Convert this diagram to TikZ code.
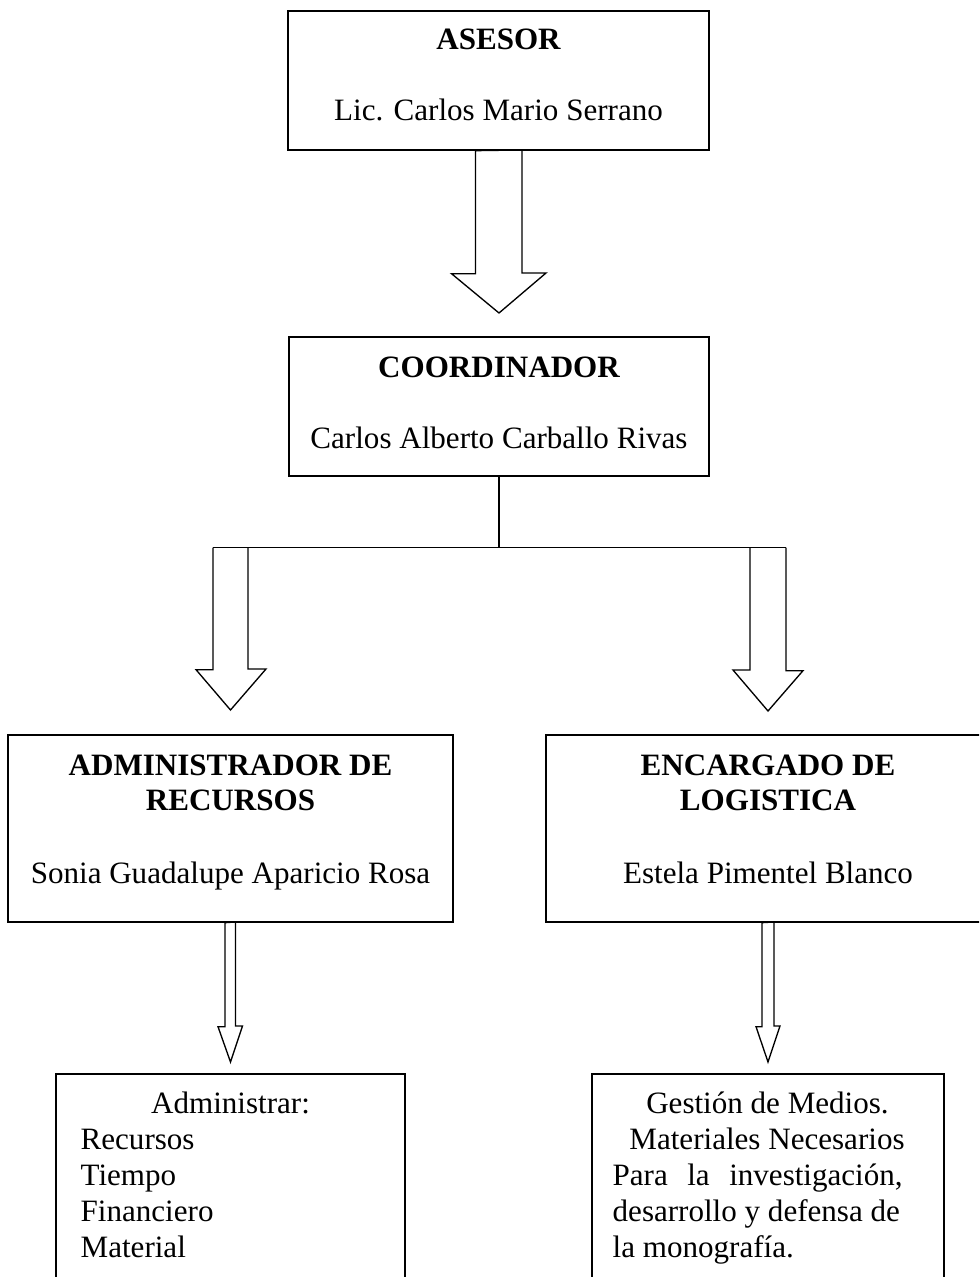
\documentclass[tikz,border=0pt]{standalone}
\usepackage{fontspec}
\setmainfont{Liberation Serif}
\usetikzlibrary{fit,calc}
\tikzset{every picture/.style={line width=1pt}}
\tikzset{
  orgbox/.style={draw, inner sep=0pt},
  txt/.style={inner sep=0pt, anchor=base, font=\fontsize{23.3}{26}\selectfont},
  txtl/.style={txt, anchor=base west},
  ttl/.style={txt, font=\fontsize{23.3}{26}\selectfont\bfseries},
}

\begin{document}
\begin{tikzpicture}[x=0.75pt,y=0.75pt,yscale=-1,xscale=1]
	\useasboundingbox (0,0) rectangle (979,1277);
	\clip (0,0) rectangle (979,1277);

	%Shape: Rectangle [asesor]
	\node[orgbox, fit={(288,11) (709,150)}] (asesor) {};
	%Shape: Rectangle [coordinador]
	\node[orgbox, fit={(289,337) (709,476)}] (coord) {};
	%Shape: Rectangle [administrador]
	\node[orgbox, fit={(8,735) (453,922)}] (admin) {};
	%Shape: Rectangle [encargado]
	\node[orgbox, fit={(546,735) (990,922)}] (encarg) {};
	%Shape: Rectangle [tareas administrador]
	\node[orgbox, fit={(56,1074) (405,1300)}] (tareas) {};
	%Shape: Rectangle [tareas encargado]
	\node[orgbox, fit={(592,1074) (944,1300)}] (medios) {};

	%Block Arrow: asesor -> coordinador
	\coordinate (tipA) at (499,313);
	\draw (asesor.south) ++(-23,0) -- ++(0,123) -- ++(-24,0) -- (tipA) -- ++(47,-40) -- ++(-24,0) -- ++(0,-123) -- cycle;

	%Straight Lines: branch
	\draw (coord.south) -- ++(0,71) coordinate (split);
	\draw (split) ++(-286,0) -- ++(573,0);
	%Block Arrow: branch -> administrador
	\coordinate (tipL) at (230.5,710);
	\draw (split) ++(-286,0) -- ++(0,122) -- ++(-17,0) -- (tipL) -- ++(35.5,-41) -- ++(-18,0) -- ++(0,-122);
	%Block Arrow: branch -> encargado
	\coordinate (tipR) at (768,711);
	\draw (split) ++(287,0) -- ++(0,123) -- ++(17,0) -- (tipR) -- ++(-35,-41) -- ++(17,0) -- ++(0,-123);

	%Block Arrow: administrador -> tareas
	\coordinate (tipSL) at (230.5,1062);
	\draw (admin.south) ++(-5.5,0) -- ++(0,104) -- ++(-7,0) -- (tipSL) -- ++(12,-36) -- ++(-7,0) -- ++(0,-104) -- cycle;
	%Block Arrow: encargado -> medios
	\coordinate (tipSR) at (768,1062);
	\draw (encarg.south) ++(-6,0) -- ++(0,104) -- ++(-6,0) -- (tipSR) -- ++(12,-36) -- ++(-6,0) -- ++(0,-104) -- cycle;

	% Text Node
	\node[ttl] (asesorT) at (498.5,50) {ASESOR};
	% Text Node
	\node[txt] (asesorN) at (498.5,121) {Lic. Carlos Mario Serrano};
	% Text Node
	\node[ttl] (coordT) at (499,377) {COORDINADOR};
	% Text Node
	\node[txt] (coordN) at (499,448) {Carlos Alberto Carballo Rivas};
	% Text Node
	\node[ttl] (adminT) at (230.5,775) {ADMINISTRADOR DE};
	\node[ttl] (adminT2) at (230.5,810) {RECURSOS};
	% Text Node
	\node[txt] (adminN) at (230.5,883) {Sonia Guadalupe Aparicio Rosa};
	% Text Node
	\node[ttl] (encargT) at (768,775) {ENCARGADO DE};
	\node[ttl] (encargT2) at (768,810) {LOGISTICA};
	% Text Node
	\node[txt] (encargN) at (768,883) {Estela Pimentel Blanco};

	% Text Node
	\node[txt] (tareasT) at (230.5,1113) {Administrar:};
	\foreach \tarea [count=\i] in {Recursos,Tiempo,Financiero,Material}
		\node[txtl] (tarea\i) at (80,1113+36*\i) {\tarea};

	% Text Node
	\node[txt] (mediosT) at (767.5,1113) {Gestión de Medios.};
	\node[txt] (medios1) at (767,1149) {Materiales Necesarios};
	\node[txtl] (medios2) at (612,1185) {\makebox[217.5pt][s]{Para la investigación,}};
	\node[txtl] (medios3) at (612,1221) {desarrollo y defensa de};
	\node[txtl] (medios4) at (612,1257) {la monografía.};

\end{tikzpicture}
\end{document}
